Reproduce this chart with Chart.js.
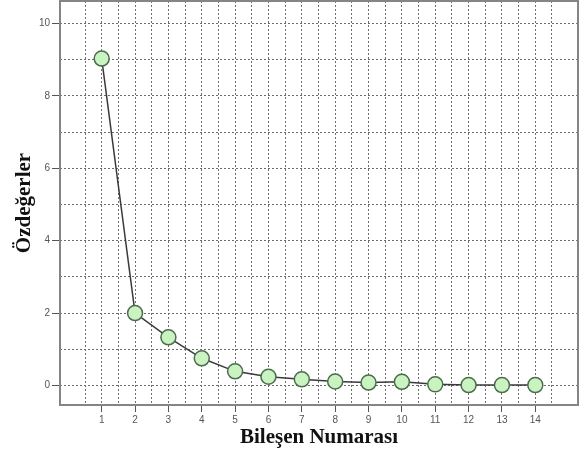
<!DOCTYPE html>
<html>
<head>
<meta charset="utf-8">
<script src="https://cdn.jsdelivr.net/npm/chart.js@4/dist/chart.umd.min.js"></script>
<style>
    body { margin: 0; background: #fff; }
    #wrap { width: 585px; height: 454px; }
</style>
</head>
<body>
<div id="wrap"><canvas id="scree" width="585" height="454"></canvas></div>
<script>
// scree plot data
const components = [1, 2, 3, 4, 5, 6, 7, 8, 9, 10, 11, 12, 13, 14];
const eigenvalues = [9.03, 2.0, 1.33, 0.75, 0.39, 0.24, 0.17, 0.11, 0.08, 0.10, 0.03, 0.01, 0.01, 0.01];

const xGridValues = [0.5, 1, 1.5, 2, 2.5, 3, 3.5, 4, 4.5, 5, 5.5, 6, 6.5, 7, 7.5, 8, 8.5, 9, 9.5, 10, 10.5, 11, 11.5, 12, 12.5, 13, 13.5, 14, 14.5];
const yGridValues = [0, 1, 2, 3, 4, 5, 6, 7, 8, 9, 10];
const yTickLabels = [0, 2, 4, 6, 8, 10];

const gridColor = '#6e6e6e';

// frame round the plot area
const framePlugin = {
    id: 'frame',
    afterDraw(chart) {
        const { ctx, chartArea } = chart;
        ctx.save();
        ctx.strokeStyle = '#858585';
        ctx.lineWidth = 2;
        ctx.strokeRect(chartArea.left, chartArea.top, chartArea.right - chartArea.left, chartArea.bottom - chartArea.top);
        ctx.restore();
    }
};

function noPadding(scale) {
    scale.paddingTop = 0;
    scale.paddingBottom = 0;
    scale.paddingLeft = 0;
    scale.paddingRight = 0;
}

const el = document.getElementById('scree');

new Chart(el.getContext('2d'), {
    type: 'line',
    data: {
        datasets: [{
            data: components.map((c, i) => ({ x: c, y: eigenvalues[i] })),
            borderColor: '#3a3a3a',
            borderWidth: 1.5,
            pointRadius: 7.5,
            pointBackgroundColor: '#c9f4c2',
            pointBorderColor: '#4d6b4d',
            pointBorderWidth: 1.5,
            tension: 0,
        }]
    },
    options: {
        responsive: false,
        animation: false,
        layout: { autoPadding: false, padding: { top: 1, right: 7, left: 0, bottom: 0 } },
        plugins: {
            legend: { display: false },
            tooltip: { enabled: false },
        },
        scales: {
            x: {
                type: 'linear',
                min: -0.25,
                max: 15.28,
                afterBuildTicks: scale => {
                    scale.ticks = xGridValues.map(v => ({ value: v }));
                },
                afterFit: scale => {
                    scale.height = 49;
                    noPadding(scale);
                },
                ticks: {
                    autoSkip: false,
                    maxRotation: 0,
                    padding: 2,
                    color: '#555',
                    font: { family: 'Arial, "Liberation Sans", sans-serif', size: 10 },
                    callback: v => Number.isInteger(v) ? String(v) : '',
                },
                grid: {
                    color: gridColor,
                    lineWidth: 1,
                    tickLength: 7,
                    tickColor: ctx => Number.isInteger(ctx.tick.value) ? '#555' : 'transparent',
                },
                border: { display: false, dash: [2, 2] },
                title: {
                    display: true,
                    text: 'Bileşen Numarası',
                    color: '#111',
                    font: { family: '"Liberation Serif", "Times New Roman", serif', size: 21, weight: 'bold' },
                    padding: { top: 0, bottom: 4 },
                },
            },
            y: {
                type: 'linear',
                min: -0.54,
                max: 10.62,
                afterBuildTicks: scale => {
                    scale.ticks = yGridValues.map(v => ({ value: v }));
                },
                afterFit: scale => {
                    scale.width = 60;
                    noPadding(scale);
                },
                ticks: {
                    autoSkip: false,
                    padding: 2,
                    color: '#555',
                    font: { family: 'Arial, "Liberation Sans", sans-serif', size: 10 },
                    callback: v => yTickLabels.includes(v) ? String(v) : '',
                },
                grid: {
                    color: gridColor,
                    lineWidth: 1,
                    tickLength: 8,
                    tickColor: ctx => yTickLabels.includes(ctx.tick.value) ? '#555' : 'transparent',
                },
                border: { display: false, dash: [2, 2] },
                title: {
                    display: true,
                    text: 'Özdeğerler',
                    color: '#111',
                    font: { family: '"Liberation Serif", "Times New Roman", serif', size: 21, weight: 'bold' },
                    padding: { top: 12, bottom: 0 },
                },
            },
        },
    },
    plugins: [framePlugin],
});
</script>
</body>
</html>
